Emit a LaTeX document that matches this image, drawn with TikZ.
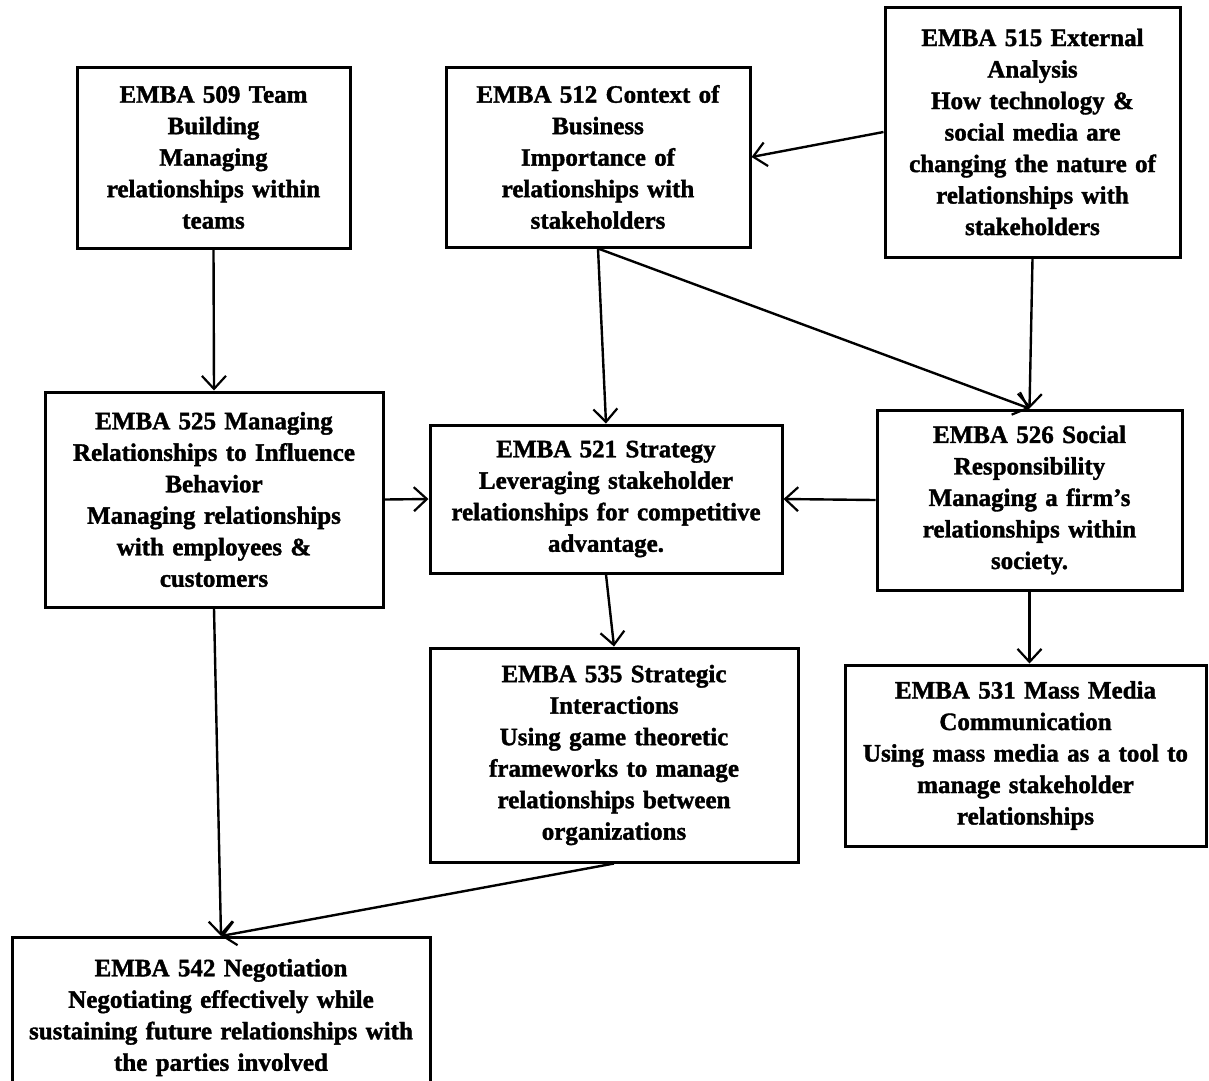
\documentclass[tikz,border=0pt]{standalone}
\usepackage{fontspec}
\setmainfont{Liberation Serif}[BoldFeatures={FakeBold=1.5,WordSpace=0.6}]
\usetikzlibrary{arrows.meta}
\begin{document}
\begin{tikzpicture}[x=1pt,y=-1pt,
  course/.style={draw, line width=3pt, inner sep=0pt, align=center,
    font=\fontsize{25}{31.5}\selectfont\bfseries},
  link/.style={line width=2.4pt,
    -{Straight Barb[length=13pt,width=24pt,line width=2.2pt]}}]
\useasboundingbox (0,0) rectangle (1209,1080);
\fill[white] (0,0) rectangle (1209,1080);

% top row
\node[course, minimum width=273, minimum height=181, text width=265] (n509) at (213.5,157.5)
  {EMBA 509 Team\\Building\\Managing\\relationships within\\teams};
\node[course, minimum width=304, minimum height=180, text width=296] (n512) at (598,157)
  {EMBA 512 Context of\\Business\\Importance of\\relationships with\\stakeholders};
\node[course, minimum width=295, minimum height=250, text width=287] (n515) at (1032.5,132)
  {EMBA 515 External\\Analysis\\How technology \&\\social media are\\changing the nature of\\relationships with\\stakeholders};

% middle row
\node[course, minimum width=338, minimum height=215, text width=330] (n525) at (214,499.5)
  {EMBA 525 Managing\\Relationships to Influence\\Behavior\\Managing relationships\\with employees \&\\customers};
\node[course, minimum width=352, minimum height=148, text width=346] (n521) at (606,499)
  {EMBA 521 Strategy\\Leveraging stakeholder\\relationships for competitive\\advantage.};
\node[course, minimum width=305, minimum height=180, text width=297] (n526) at (1029.5,500)
  {EMBA 526 Social\\Responsibility\\Managing a firm’s\\relationships within\\society.};

% lower row
\node[course, minimum width=368, minimum height=214, text width=360] (n535) at (614,755)
  {EMBA 535 Strategic\\Interactions\\Using game theoretic\\frameworks to manage\\relationships between\\organizations};
\node[course, minimum width=361, minimum height=181, text width=355] (n531) at (1025.5,755.5)
  {EMBA 531 Mass Media\\Communication\\Using mass media as a tool to\\manage stakeholder\\relationships};
\node[course, anchor=north, minimum width=418, minimum height=160, text width=412] (n542) at (221,936)
  {EMBA 542 Negotiation\\Negotiating effectively while\\sustaining future relationships with\\the parties involved};

% connectors
\draw[link] (n509.south) -- (n525.north);
\draw[link] (n515.west) -- (n512.east);
\draw[link] (n512.south) -- (n521.north);
\draw[link] (n512.south) -- (n526.north);
\draw[link] (n515.south) -- (n526.north);
\draw[link] (n525.east) -- (n521.west);
\draw[link] (n526.west) -- (n521.east);
\draw[link] (n521.south) -- (n535.north);
\draw[link] (n526.south) -- (n526.south |- n531.north);
\draw[link] (n525.south) -- (n542.north);
\draw[link] (n535.south) -- (n542.north);
\end{tikzpicture}
\end{document}
